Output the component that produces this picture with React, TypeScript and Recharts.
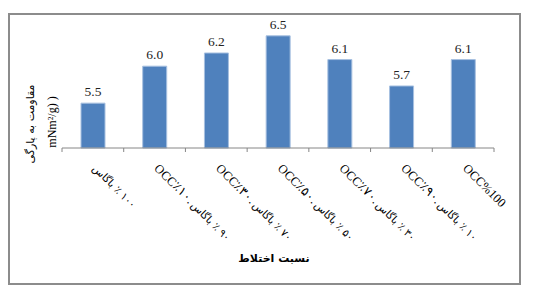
import React from "react";
import { BarChart, Bar, XAxis, YAxis, LabelList } from "recharts";

const RLI = "\u2067";
const PDI = "\u2069";

// each category: latin/OCC part and Persian part (logical order)
const occParts = ["", "OCC٪۱۰.", "OCC٪۳۰.", "OCC٪۵۰.", "OCC٪۷۰.", "OCC٪۹۰.", "OCC%100"];
const persianParts = ["۱۰۰ ٪ باگاس", "۹۰ ٪ باگاس", "۷۰ ٪ باگاس", "۵۰ ٪ باگاس", "۳۰ ٪ باگاس", "۱۰ ٪ باگاس", ""];
const categories = occParts.map((o, i) => o + "|" + persianParts[i]);

const values = [5.48, 6.04, 6.24, 6.5, 6.14, 5.74, 6.14];

const yTitleLine1 = "مقاومت به پارگی";
const yTitleLine2 = "mNm²/g) )";
const xTitle = "نسبت اختلاط";

const data = categories.map((c, i) => ({ name: c, value: values[i] }));

const CHART_W = 526;
const CHART_H = 287;
const M = { top: 12, left: 54, right: 40, bottom: 27 };
const PLOT_W = CHART_W - M.left - M.right;
const BAND = PLOT_W / categories.length;

const Tick = (props: any) => {
  const { x, y, payload } = props;
  const idx = categories.indexOf(payload.value);
  const half = BAND / 2;
  const occ = occParts[idx] || "";
  const fa = persianParts[idx] || "";
  return (
    <g>
      <line x1={x - half} x2={x - half} y1={y} y2={y + 4} stroke="#868686" strokeWidth={1} />
      {idx === categories.length - 1 && (
        <line x1={x + half} x2={x + half} y1={y} y2={y + 4} stroke="#868686" strokeWidth={1} />
      )}
      <text
        transform={`translate(${x - 1},${y + 21}) rotate(45)`}
        fontSize={12.5}
        fontFamily="Liberation Serif"
        fill="#000"
        direction="ltr"
      >
        {occ && <tspan>{occ}</tspan>}
        {fa && (
          <tspan fontSize={10.5} fontFamily="DejaVu Sans" dx={occ ? 2 : 0}>
            {RLI + fa + PDI}
          </tspan>
        )}
      </text>
    </g>
  );
};

export default function App() {
  return (
    <div style={{ position: "relative", width: CHART_W, height: CHART_H }}>
      <div
        style={{
          position: "absolute",
          left: 0,
          top: 5,
          width: 513,
          height: 272,
          boxSizing: "border-box",
          border: "2px solid #8c8c8c",
        }}
      />
      <div style={{ position: "absolute", left: 0, top: 0 }}>
        <BarChart width={CHART_W} height={CHART_H} data={data} margin={M} barCategoryGap={0}>
          <XAxis
            dataKey="name"
            height={120}
            interval={0}
            tickSize={0}
            tickMargin={0}
            axisLine={{ stroke: "#868686" }}
            tick={<Tick />}
          />
          <YAxis hide domain={[4.8, 6.74]} />
          <Bar dataKey="value" fill="#4F81BD" stroke="#a7c0e0" strokeWidth={1} barSize={24} isAnimationActive={false}>
            <LabelList
              dataKey="value"
              position="top"
              offset={7}
              formatter={(v: any) => Number(v).toFixed(1)}
              style={{ fontFamily: "Liberation Serif", fontSize: 13.5, fill: "#222" }}
            />
          </Bar>
          <text
            transform="translate(26,116) rotate(-90)"
            textAnchor="middle"
            fontSize={11}
            fontFamily="DejaVu Sans"
            fill="#000"
          >
            {yTitleLine1}
          </text>
          <text
            transform="translate(48,114) rotate(-90)"
            textAnchor="middle"
            fontSize={12}
            fontFamily="Liberation Serif"
            fill="#000"
          >
            {yTitleLine2}
          </text>
          <text
            x={266}
            y={254}
            textAnchor="middle"
            fontSize={11}
            fontWeight="bold"
            fontFamily="DejaVu Sans"
            fill="#000"
          >
            {xTitle}
          </text>
        </BarChart>
      </div>
    </div>
  );
}
